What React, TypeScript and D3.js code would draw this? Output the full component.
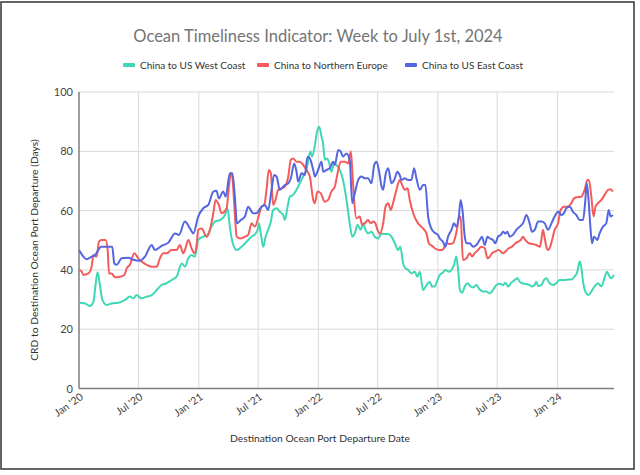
import React from 'react';
import * as d3 from 'd3';

// weekly index since 2020-01-01
const westWeeks = [0,2.6,4.8,6.3,7.3,8.1,9.0,10.2,12.1,14.2,17.2,20.1,22.2,23.7,25.1,27.3,29.5,31.7,33.9,36.0,38.2,40.4,42.6,44.8,46.2,47.7,49.1,50.6,52.0,54.2,56.1,57.8,59.3,61.5,63.7,64.8,65.8,66.9,68.8,70.9,73.1,75.3,76.7,77.9,78.5,79.3,80.4,81.4,82.5,83.7,84.7,86.2,87.6,89.1,89.8,91.0,92.0,93.4,94.9,96.3,97.8,99.2,100.3,101.0,101.7,102.9,104.0,104.8,105.8,106.5,107.2,108.0,109.0,110.1,111.3,112.3,113.8,115.2,116.7,118.1,119.2,120.3,121.5,122.9,124.0,125.0,126.1,127.6,129.0,130.5,132.0,133.4,134.9,136.3,137.8,139.2,140.2,141.4,142.4,143.6,145.0,146.5,147.6,148.7,150.1,151.6,153.0,154.0,155.2,156.4,157.4,158.8,159.8,161.3,162.5,163.6,164.6,165.4,166.2,167.1,168.3,169.4,170.9,171.9,173.4,174.8,176.3,177.7,179.2,180.6,182.1,183.5,185.0,186.0,187.2,188.6,190.1,191.2,192.3,193.3,194.7,196.6,197.6,198.8,199.5,200.3,201.7,202.9,203.9,205.3,206.8,208.2,209.7,210.7,212.2,213.3,214.8,216.2,217.4,218.4,219.1,220.0,221.3,222.3,223.5,224.9,226.4,227.9,229.0,230.3,231.5,232.2,233.4];
const westValues = [28.9,28.7,27.8,29.3,35.5,39.2,35.5,29.9,28.2,28.7,28.9,29.9,31.0,30.4,31.5,30.4,31.0,31.5,33.2,34.9,35.5,36.6,37.7,42.2,41.1,43.9,45.0,44.5,50.1,51.2,51.8,54.6,56.3,56.8,58.5,60.8,54.6,49.5,46.7,47.8,49.5,51.2,52.0,53.5,55.7,52.3,47.8,51.2,53.5,56.3,60.2,60.8,59.6,58.5,56.8,61.3,64.7,65.3,67.0,69.2,71.5,73.7,78.2,79.9,78.2,82.1,87.2,88.3,84.9,82.7,77.1,77.6,76.5,73.1,75.9,75.4,73.7,70.3,63.6,55.7,51.2,52.3,55.2,53.5,55.7,53.5,52.3,52.9,51.2,50.6,52.3,52.1,52.1,51.2,49.0,46.7,47.8,42.2,40.5,40.0,38.8,39.4,37.7,39.4,33.2,34.9,36.0,34.4,34.4,36.6,38.3,39.1,40.0,39.4,40.0,41.7,44.5,40.0,33.2,32.3,34.4,35.5,34.4,34.1,34.9,33.4,32.7,32.7,32.1,33.2,34.9,35.3,34.9,35.7,34.4,35.7,36.6,37.2,36.0,35.5,35.3,34.9,34.4,34.9,36.0,34.6,34.9,36.6,37.2,35.5,34.9,35.5,36.6,36.6,36.6,36.8,36.8,37.7,39.4,42.8,41.1,35.5,32.1,31.5,32.7,34.4,35.5,34.4,36.6,39.4,37.7,37.2,38.3];

const europeWeeks = [0,1.2,1.9,4.1,5.5,6.3,7.7,8.7,9.9,11.6,12.5,13.1,14.2,15.7,17.9,19.8,20.8,22.2,24.1,25.9,27.3,29.5,31.7,33.9,35.3,36.8,38.2,40.4,42.6,44.0,45.5,46.2,47.7,49.1,50.3,51.3,52.0,53.5,55.7,57.1,58.6,59.6,61.0,62.2,64.4,65.4,66.3,66.9,67.7,68.8,70.2,72.4,73.8,75.3,76.7,78.9,79.6,80.8,81.8,82.8,83.7,84.7,85.7,86.9,88.4,89.8,91.3,92.4,93.4,94.9,96.3,97.8,99.2,100.7,102.2,102.9,104.0,105.5,107.2,108.7,110.1,111.6,112.8,114.2,116.0,117.4,118.6,119.3,120.0,121.1,122.5,123.5,124.7,126.1,127.3,128.3,129.3,130.2,131.2,132.7,133.7,134.9,136.0,137.0,138.5,139.9,141.0,142.1,143.3,144.3,145.8,147.9,150.1,151.6,152.6,154.5,155.2,157.4,158.8,160.3,161.7,163.2,164.2,165.1,165.7,166.5,167.5,169.0,170.5,171.5,172.6,174.1,175.5,177.0,178.2,179.2,180.2,181.6,183.1,185.0,186.0,187.5,188.9,190.4,191.5,192.7,193.7,194.7,196.2,198.1,199.5,201.0,201.7,202.4,203.2,203.9,204.6,205.3,206.4,207.5,209.0,210.1,211.6,213.0,214.8,215.9,217.0,219.1,220.6,221.8,222.5,223.5,224.5,225.3,226.4,227.9,229.3,230.8,231.9,232.9];
const europeValues = [40.0,39.4,38.3,38.8,41.1,45.0,44.5,49.5,50.1,50.1,46.7,38.8,38.8,37.5,37.7,38.3,40.5,41.7,45.6,43.9,42.8,41.7,41.1,41.1,43.9,45.6,45.6,46.7,46.7,48.4,45.6,46.7,50.1,47.3,45.6,48.4,53.5,54.0,51.2,53.5,59.1,63.6,61.9,59.1,60.8,68.1,72.6,71.4,62.5,51.2,50.6,51.2,51.8,55.7,54.6,59.6,61.3,61.9,67.0,73.7,72.6,61.9,63.6,67.0,67.5,68.1,71.5,77.1,77.6,76.5,76.5,75.4,73.7,71.5,63.6,62.5,66.4,65.8,63.0,63.6,66.4,68.1,72.6,76.5,76.5,75.9,79.9,72.6,63.6,57.4,58.0,55.2,55.7,56.8,55.7,56.3,55.7,53.5,52.3,55.7,61.3,62.5,60.2,62.5,67.0,70.3,68.6,67.0,67.5,63.6,59.1,55.7,54.0,52.3,49.0,47.8,47.3,46.7,46.9,49.0,48.7,49.0,51.2,54.6,57.4,58.0,43.3,43.9,45.6,44.5,45.6,46.7,47.8,47.3,43.9,44.5,45.6,46.2,46.7,45.6,46.2,47.3,47.8,49.0,49.5,50.1,51.2,50.1,49.0,48.7,48.4,47.8,50.1,53.5,50.6,47.8,46.7,47.3,50.1,53.5,55.7,60.2,61.3,61.3,62.5,64.1,64.5,64.7,67.0,70.3,70.3,64.7,58.0,61.3,62.5,63.6,65.3,67.0,67.2,66.4];

const eastWeeks = [0,1.9,3.3,5.5,7.0,8.4,9.6,14.5,15.4,16.4,18.6,21.5,23.7,26.6,28.8,31.7,33.1,36.0,39.0,41.9,43.6,46.2,48.4,49.9,52.0,54.2,56.4,58.6,60.0,61.0,62.9,64.0,65.8,66.9,68.0,68.9,70.6,72.4,73.8,76.0,77.4,79.6,81.1,82.5,84.0,85.1,86.2,87.6,88.4,89.8,91.3,92.4,93.9,94.9,95.6,97.1,98.5,99.7,100.7,102.2,102.9,104.3,105.8,106.5,108.0,109.4,110.9,111.6,113.1,114.2,115.2,116.7,118.1,119.2,120.3,121.8,123.2,124.7,126.1,127.6,128.8,129.8,130.8,132.0,132.7,133.7,134.9,136.3,137.5,138.9,139.9,140.7,142.1,143.6,145.0,146.2,147.2,148.7,150.1,151.1,152.3,153.7,155.2,156.6,157.4,158.8,159.8,161.0,162.5,163.6,164.6,165.7,166.5,167.3,168.3,169.0,170.5,171.9,173.4,174.8,175.8,177.0,178.2,179.2,180.6,181.6,182.8,184.0,185.0,186.0,186.9,187.9,189.3,190.8,192.3,193.7,195.2,196.6,197.6,198.8,200.3,201.7,203.2,204.6,206.1,207.5,209.0,210.4,211.9,212.6,214.1,215.5,217.0,218.4,219.9,220.9,221.5,222.3,223.2,223.8,224.7,226.1,227.1,228.6,230.0,231.1,231.9,232.9];
const eastValues = [46.7,44.5,43.6,44.5,45.0,46.7,47.8,47.8,42.2,41.7,43.9,44.1,43.4,43.1,44.5,48.4,46.7,48.1,49.2,52.3,51.8,56.3,54.0,52.3,58.0,60.8,61.9,66.4,66.7,64.1,66.4,64.7,72.6,72.6,64.7,55.7,56.8,58.0,61.3,59.1,59.1,61.3,61.9,60.2,67.0,72.0,71.5,67.0,67.5,68.6,69.2,70.9,75.9,73.1,69.8,72.6,72.0,78.2,77.6,73.7,71.5,73.7,76.5,73.1,73.7,74.3,76.5,75.4,80.4,79.9,78.2,79.3,77.1,62.5,65.8,70.3,71.5,70.9,70.9,69.2,75.4,76.5,73.7,68.1,67.0,72.0,74.3,69.2,70.3,73.1,72.0,70.3,70.9,70.3,70.3,74.3,70.9,67.0,68.6,68.6,58.0,54.0,52.5,51.8,50.6,49.5,47.8,51.2,53.5,55.7,54.6,58.0,63.6,60.2,51.2,49.0,49.0,47.8,48.4,50.1,51.2,48.4,51.2,50.6,50.1,49.0,51.2,51.8,52.9,52.3,52.9,51.2,51.8,53.5,54.6,55.7,58.5,55.7,52.9,53.5,56.3,56.3,55.7,53.5,55.7,58.0,59.6,58.5,59.6,60.8,61.3,59.6,58.5,56.8,56.8,63.6,69.2,63.6,53.5,49.0,51.2,50.1,52.3,54.6,55.7,60.2,58.0,58.5];

const seriesNames = ['China to US West Coast', 'China to Northern Europe', 'China to US East Coast'];
const seriesColors = ['#3fd8b6', '#f45b5b', '#5466e0'];
const yTicks = [0, 20, 40, 60, 80, 100];

const startDate = new Date(2020, 0, 1);
const DAY = 86400000;
const toDate = (w: number) => new Date(startDate.getTime() + w * 7 * DAY);

const FONT = 'Lato, "Open Sans", sans-serif';

export default function App() {
  const W = 640, H = 475;
  const left = 79, right = 614, top = 92, bottom = 388.5;
  const x = d3.scaleTime().domain([startDate, toDate(233.4)]).range([left, right]);
  const y = d3.scaleLinear().domain([0, 100]).range([bottom, top]);
  const xTicks = d3.timeMonth.every(6)!.range(startDate, toDate(234));
  const fmt = d3.timeFormat("%b '%y");
  const line = d3.line<[number, number]>()
    .x(d => x(toDate(d[0])))
    .y(d => y(d[1]))
    .curve(d3.curveMonotoneX);
  const series = [
    d3.zip(westWeeks, westValues) as [number, number][],
    d3.zip(europeWeeks, europeValues) as [number, number][],
    d3.zip(eastWeeks, eastValues) as [number, number][],
  ];
  const legendX = [123, 257, 405];

  return (
    <svg width={W} height={H} style={{ position: 'absolute', left: 0, top: 0, background: '#fff' }} fontFamily={FONT}>
      <rect x={1} y={2} width={633} height={467} fill="#fff" stroke="#333" strokeWidth={1.5} />
      <text x={318} y={42} textAnchor="middle" fontSize={16.5} fill="#757575">Ocean Timeliness Indicator: Week to July 1st, 2024</text>
      {seriesNames.map((n, i) => (
        <g key={n}>
          <rect x={legendX[i]} y={63} width={12} height={4} rx={1} fill={seriesColors[i]} />
          <text x={legendX[i] + 17} y={69} fontSize={10} fill="#333">{n}</text>
        </g>
      ))}
      {yTicks.map(t => (
        <g key={t}>
          <line x1={left} x2={right} y1={y(t)} y2={y(t)} stroke="#d9d9d9" strokeWidth={1} />
          <text x={73} y={y(t) + 4} textAnchor="end" fontSize={11} fill="#444">{t}</text>
        </g>
      ))}
      {xTicks.map(t => (
        <g key={t.getTime()}>
          {t.getTime() !== startDate.getTime() && (
            <line x1={x(t)} x2={x(t)} y1={top} y2={bottom} stroke="#d9d9d9" strokeWidth={1} />
          )}
          <text transform={`translate(${x(t) + 5},${bottom + 10}) rotate(-35)`} textAnchor="end" fontSize={10.5} fill="#444">{fmt(t)}</text>
        </g>
      ))}
      <line x1={left} x2={left} y1={top} y2={bottom} stroke="#7f7f7f" strokeWidth={1.5} />
      <line x1={left} x2={right} y1={bottom} y2={bottom} stroke="#7f7f7f" strokeWidth={1.5} />
      {series.map((s, i) => (
        <path key={i} d={line(s) || ''} fill="none" stroke={seriesColors[i]} strokeWidth={2} strokeLinejoin="round" />
      ))}
      <text transform="translate(38,250) rotate(-90)" textAnchor="middle" fontSize={10.3} fill="#333">CRD to Destination Ocean Port Departure (Days)</text>
      <text x={320} y={442} textAnchor="middle" fontSize={10.3} fill="#333">Destination Ocean Port Departure Date</text>
    </svg>
  );
}
